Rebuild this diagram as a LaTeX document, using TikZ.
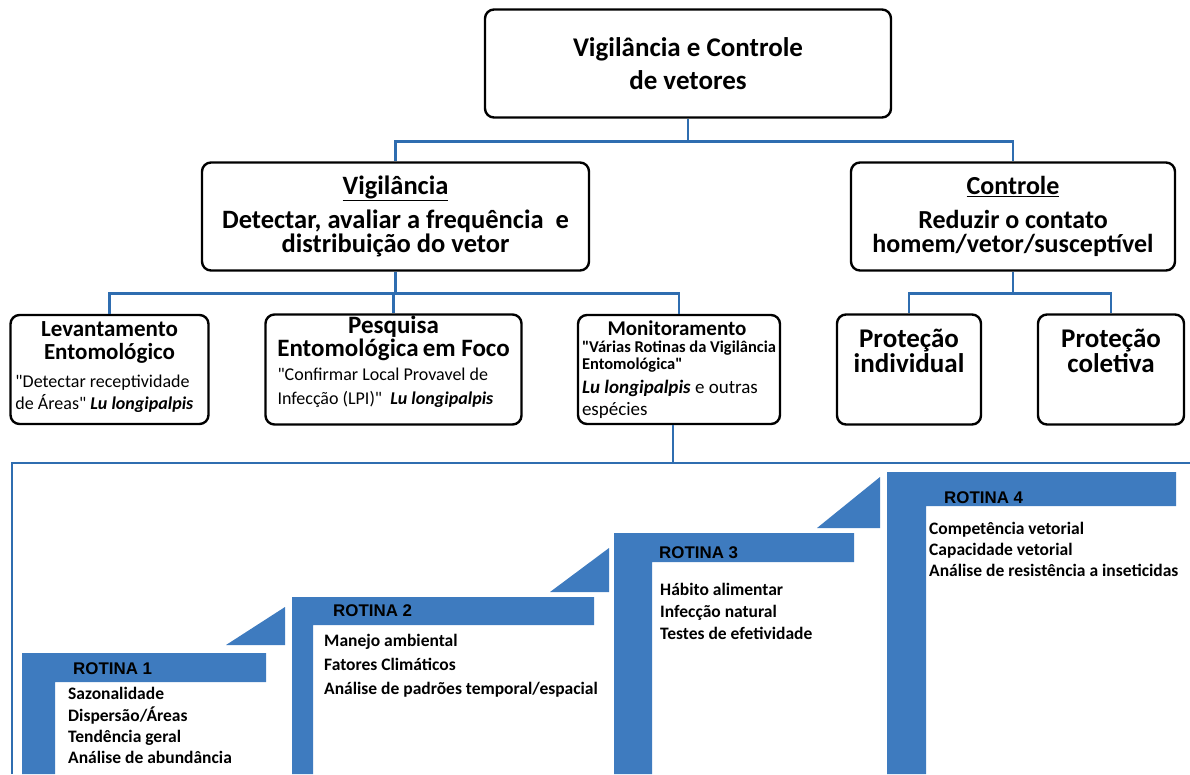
\documentclass[tikz,border=0pt]{standalone}
\usepackage{fontspec}
\newfontfamily\calibri{Carlito}
\newfontfamily\arialfont{Liberation Sans}
\usetikzlibrary{calc}

\definecolor{azul}{RGB}{62,123,191}
\definecolor{azullinha}{RGB}{47,109,176}

\begin{document}
\calibri\lineskiplimit=-30pt
\begin{tikzpicture}[x=1pt,y=-1pt,
  box/.style={draw=black,line width=2.4pt,rounded corners=9pt,fill=white,inner sep=5pt},
  conn/.style={draw=azullinha,line width=2.6pt},
  degrau/.style={fill=azul},
  rotina/.style={anchor=west,inner sep=0pt,font=\arialfont\bfseries\fontsize{16.9}{18}\selectfont},
  itens/.style={anchor=north west,align=flush left,inner sep=0pt,font=\bfseries\fontsize{17.5}{22}\selectfont}]
  \useasboundingbox (0,0) rectangle (1190,774);
  % nivel 1
  \node[box,minimum width=406pt,minimum height=108pt,align=center,
        font=\bfseries\fontsize{27}{33}\selectfont] (vc) at (688,63.5)
        {Vigilância e Controle\\de vetores};
  % nivel 2
  \node[box,minimum width=387pt,minimum height=108pt,align=center,
        font=\bfseries\fontsize{26.5}{24.5}\selectfont] (vig) at (395.5,216.5)
        {\underline{Vigilância}\\[9pt]Detectar, avaliar a frequência\ \ e\\distribuição do vetor};
  \node[box,minimum width=324pt,minimum height=108pt,align=center,
        font=\bfseries\fontsize{26}{24}\selectfont] (ctrl) at (1013,216.5)
        {\underline{Controle}\\[10pt]Reduzir o contato\\homem/vetor/susceptível};
  % nivel 3
  \node[box,minimum width=198pt,minimum height=109pt,text width=188pt,align=flush left,
        inner sep=0pt,text height=20pt,text depth=87pt,font=\fontsize{18}{22}\selectfont] (lev) at (109.5,369.5)
        {\makebox[\hsize]{\bfseries\fontsize{23}{22}\selectfont Levantamento}\\[1pt]
         \makebox[\hsize]{\bfseries\fontsize{23}{22}\selectfont Entomológico}\\[6pt]
         "Detectar receptividade\\de Áreas" \textbf{\textit{Lu longipalpis}}};
  \node[box,minimum width=256pt,minimum height=110pt,text width=232pt,align=flush left,
        inner sep=0pt,text height=18pt,text depth=91pt,font=\fontsize{18}{24}\selectfont] (pesq) at (393.5,369.5)
        {\makebox[\hsize]{\bfseries\fontsize{25}{22}\selectfont Pesquisa}\\[-1pt]
         \makebox[\hsize]{\bfseries\fontsize{25}{22}\selectfont Entomológica\,em Foco}\\[0pt]
         "Confirmar Local Provavel de\\Infecção (LPI)"\ \ \textbf{\textit{Lu longipalpis}}};
  \node[box,minimum width=202pt,minimum height=109pt,text width=194pt,align=flush left,
        inner sep=0pt,font=\fontsize{19}{22}\selectfont] (mon) at (679,369.5)
        {\makebox[\hsize]{\bfseries\fontsize{21}{22}\selectfont\hspace*{-4pt}Monitoramento}\\[-5pt]
         {\bfseries\fontsize{16.5}{22}\selectfont "Várias Rotinas da Vigilância}\\[-5pt]
         {\bfseries\fontsize{16.5}{22}\selectfont Entomológica"}\\[2pt]
         \textbf{\textit{Lu longipalpis}} e outras\\espécies};
  \node[box,minimum width=144pt,minimum height=110pt,align=center,text depth=38pt,
        font=\bfseries\fontsize{27}{25}\selectfont] (pind) at (909,369.5)
        {Proteção\\individual};
  \node[box,minimum width=146pt,minimum height=110pt,align=center,text depth=38pt,
        font=\bfseries\fontsize{27}{25}\selectfont] (pcol) at (1111,369.5)
        {Proteção\\coletiva};
  % ligacoes
  \draw[conn] (vc.south) -- ++(0,22.5) -| (vig.north);
  \draw[conn] (vc.south) -- ++(0,22.5) -| (ctrl.north);
  \draw[conn] (vig.south) -- ++(0,22) -| (lev.north);
  \draw[conn] (vig.south) -- ++(0,22) -| (pesq.north);
  \draw[conn] (vig.south) -- ++(0,22) -| (mon.north);
  \draw[conn] (ctrl.south) -- ++(0,22) -| (pind.north);
  \draw[conn] (ctrl.south) -- ++(0,22) -| (pcol.north);
  % quadro das rotinas
  \coordinate (qd) at (12,463);
  \draw[conn] (12,774) -- (qd) -- (1190,463);
  \draw[conn] ([xshift=-6pt]mon.south) -- ([xshift=-6pt]mon.south |- qd);
  % degraus
  \fill[degrau] (22,653) -- (266,653) -- (266,682) -- (55,682) -- (55,774) -- (22,774) -- cycle;
  \fill[degrau] (292,597) -- (594,597) -- (594,625) -- (313,625) -- (313,774) -- (292,774) -- cycle;
  \fill[degrau] (614,533) -- (854,533) -- (854,562) -- (652,562) -- (652,774) -- (614,774) -- cycle;
  \fill[degrau] (887,472) -- (1176,472) -- (1176,506) -- (926,506) -- (926,774) -- (887,774) -- cycle;
  \fill[degrau] (226,645) -- (285,607) -- (285,645) -- cycle;
  \fill[degrau] (550,592) -- (609,548) -- (609,592) -- cycle;
  \fill[degrau] (817,528) -- (880,477) -- (880,528) -- cycle;
  % rotinas
  \node[rotina] (r1) at (73,669) {ROTINA 1};
  \node[rotina] (r2) at (333,611) {ROTINA 2};
  \node[rotina] (r3) at (659,553) {ROTINA 3};
  \node[rotina] (r4) at (944,498) {ROTINA 4};
  \node[itens] (i1) at (68,687) {Sazonalidade\\[0pt]Dispersão/Áreas\\[-1pt]Tendência geral\\[-1pt]Análise de abundância};
  \node[itens] (i2) at (324,634) {Manejo ambiental\\[2pt]Fatores Climáticos\\[2pt]Análise de padrões temporal/espacial};
  \node[itens] (i3) at (660,583) {Hábito alimentar\\Infecção natural\\Testes de efetividade};
  \node[itens] (i4) at (929,522) {Competência vetorial\\[-1pt]Capacidade vetorial\\[-1pt]Análise de resistência a inseticidas};
\end{tikzpicture}
\end{document}
